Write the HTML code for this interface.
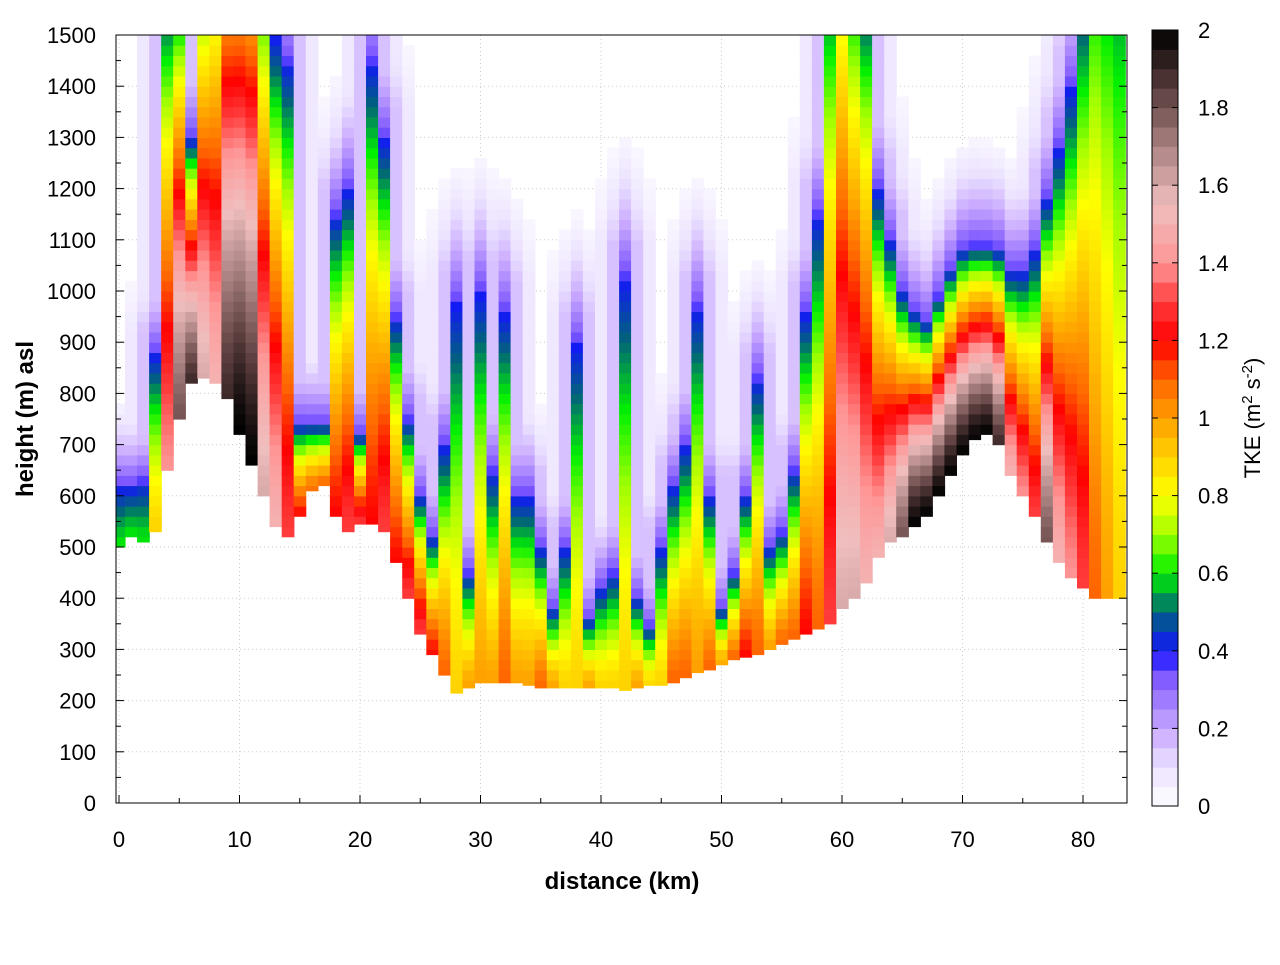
<!DOCTYPE html>
<html><head><meta charset="utf-8"><style>
body{margin:0;background:#fff;font-family:"Liberation Sans",sans-serif}
svg text{font-family:"Liberation Sans",sans-serif}
</style></head><body>
<svg id="chart" width="1280" height="960" xmlns="http://www.w3.org/2000/svg">
<rect width="1280" height="960" fill="#fff"/>
<g id="grid"></g>
<g id="cells"></g>
<rect x="116" y="35" width="1011" height="768" fill="none" stroke="#000" stroke-width="1"/>
<g id="axes"></g>
<text x="622" y="889" text-anchor="middle" font-size="24" font-weight="bold">distance (km)</text>
<text transform="translate(33,419) rotate(-90)" text-anchor="middle" font-size="24" font-weight="bold">height (m) asl</text>
<g id="cbar"></g>
<text transform="translate(1260,418) rotate(-90)" text-anchor="middle" font-size="22">TKE (m<tspan font-size="15" dy="-8">2</tspan><tspan dy="8"> s</tspan><tspan font-size="15" dy="-8">-2</tspan><tspan dy="8">)</tspan></text>
</svg>
<script>
const distances=[0,1,2,3,4,5,6,7,8,9,10,11,12,13,14,15,16,17,18,19,20,21,22,23,24,25,26,27,28,29,30,31,32,33,34,35,36,37,38,39,40,41,42,43,44,45,46,47,48,49,50,51,52,53,54,55,56,57,58,59,60,61,62,63,64,65,66,67,68,69,70,71,72,73,74,75,76,77,78,79,80,81,82,83];
const groundHeight=[500,520,510,530,650,750,820,830,820,790,720,660,600,540,520,560,610,620,560,530,545,545,530,470,400,330,290,250,215,225,235,235,235,235,230,225,225,225,225,225,225,225,220,225,230,230,235,245,255,260,270,280,285,290,300,310,320,330,340,350,380,400,430,480,510,520,540,560,600,640,680,710,720,700,640,600,560,510,470,440,420,400,400,400];
const topHeight=[620,620,630,880,1600,1600,1300,1700,1800,1900,1900,1900,1700,1500,1450,740,740,740,1150,1200,720,1450,1300,950,750,600,520,700,980,450,1000,650,960,600,600,500,380,500,900,360,420,450,1030,400,345,500,620,700,970,600,380,450,600,830,500,530,650,960,1150,1700,1900,1700,1600,1200,1100,1000,960,940,990,1040,1080,1090,1090,1080,1040,1040,1080,1180,1280,1400,1600,1900,1900,1900];
const peakTKE=[0.6,0.6,0.6,0.9,1.4,1.8,1.9,1.6,1.5,1.9,2,2,1.6,1.5,1.3,1.2,1.1,1.1,1.2,1.3,1.3,1.2,1.3,1.2,1.3,1.3,1.2,1.1,0.9,1.0,1.0,1.0,1.1,1.0,1.0,1.1,1.0,0.9,0.9,1.0,0.9,0.9,0.9,1.0,0.9,0.9,1.1,1.1,1.0,1.1,1.0,1.1,1.2,1.1,1.0,1.1,1.1,1.2,1.1,1.3,1.6,1.6,1.5,1.5,1.6,1.8,2,2,2,2,2,2,2,1.9,1.5,1.4,1.3,1.8,1.5,1.4,1.3,1.1,1.0,0.9];
const xTicks=[0,10,20,30,40,50,60,70,80];
const yTicks=[0,100,200,300,400,500,600,700,800,900,1000,1100,1200,1300,1400,1500];
const cTicks=[0,0.2,0.4,0.6,0.8,1,1.2,1.4,1.6,1.8,2];
const NS="http://www.w3.org/2000/svg";
const X=d=>119+d*12.05, Y=h=>803-h*0.512;
const stops=[[0,[255,255,255]],[0.1,[235,225,255]],[0.2,[200,168,255]],[0.33,[128,90,255]],[0.4,[20,20,255]],[0.5,[0,100,120]],[0.6,[0,240,0]],[0.7,[160,255,0]],[0.8,[255,255,0]],[0.9,[255,210,0]],[1.0,[255,160,0]],[1.1,[255,100,0]],[1.2,[255,0,0]],[1.3,[255,60,60]],[1.4,[255,150,150]],[1.55,[240,190,190]],[1.7,[170,130,130]],[1.85,[90,60,60]],[2,[0,0,0]]];
function col(v){v=Math.max(0,Math.min(2,v));for(let i=1;i<stops.length;i++){if(v<=stops[i][0]){const a=stops[i-1],b=stops[i],t=(v-a[0])/(b[0]-a[0]);return 'rgb('+a[1].map((c,k)=>Math.round(c+(b[1][k]-c)*t)).join(',')+')';}}return '#000';}
function mk(tag,attrs,parent){const e=document.createElementNS(NS,tag);for(const k in attrs)e.setAttribute(k,attrs[k]);parent.appendChild(e);return e;}
const grid=document.getElementById('grid');
xTicks.forEach(t=>{const l=mk('line',{x1:X(t),x2:X(t),y1:35,y2:803,stroke:'#ccc','stroke-dasharray':'1,3'},grid);});
yTicks.forEach(t=>{const l=mk('line',{x1:116,x2:1127,y1:Y(t),y2:Y(t),stroke:'#ccc','stroke-dasharray':'1,3'},grid);});
function val(i,hm){
 const g=groundHeight[i], tp=topHeight[i], pk=peakTKE[i];
 if(hm<g)return 0;
 if(hm<tp){const t=(hm-g)/(tp-g);return 0.4+(pk-0.4)*(1-Math.pow(t,1.3));}
 const tail=200+0.2*(tp-g);const u=(hm-tp)/tail;
 return u<1?0.36*Math.pow(1-u,1.8):0;
}
const cells=document.getElementById('cells');
const DH=20,N=distances.length;
for(let i=0;i<N;i++){
 const d=distances[i]-0.5;
 const g=groundHeight[i];
 for(let h=Math.floor(g/DH)*DH;h<1500;h+=DH){
  const hb=Math.max(h,g);const hm=hb+DH/2;
  let v=val(i,hm);
  for(let k=-2;k<=2;k++){if(!k||i+k<0||i+k>=N)continue;const nv=Math.min(0.26,val(i+k,hm))*(Math.abs(k)==1?0.6:0.3);if(nv>v)v=nv;}
  if(v<0.03)continue;
  const x0=Math.max(116,X(d)),x1=Math.min(1127,X(d+1));
  const r=mk('rect',{x:x0.toFixed(1),y:Y(h+DH).toFixed(1),width:(x1-x0+0.6).toFixed(1),height:(Y(hb)-Y(h+DH)+0.6).toFixed(1),fill:col(v)},cells);
  
  
 }}
const axes=document.getElementById('axes');
xTicks.forEach(t=>{mk('line',{x1:X(t),x2:X(t),y1:803,y2:795,stroke:'#000'},axes);if(t<80)mk('line',{x1:X(t+5),x2:X(t+5),y1:803,y2:798,stroke:'#000'},axes);
 const tx=mk('text',{x:X(t),y:847,'text-anchor':'middle','font-size':22},axes);tx.textContent=t;});
yTicks.forEach(t=>{mk('line',{x1:116,x2:124,y1:Y(t),y2:Y(t),stroke:'#000'},axes);mk('line',{x1:1127,x2:1119,y1:Y(t),y2:Y(t),stroke:'#000'},axes);
 if(t<1500){mk('line',{x1:116,x2:121,y1:Y(t+50),y2:Y(t+50),stroke:'#000'},axes);mk('line',{x1:1127,x2:1122,y1:Y(t+50),y2:Y(t+50),stroke:'#000'},axes);}
 const tx=mk('text',{x:96,y:Y(t)+8,'text-anchor':'end','font-size':22},axes);tx.textContent=t;});
const cb=document.getElementById('cbar');
const CB0=806,CB1=30;const CY=v=>CB0-(v/2)*(CB0-CB1);
for(let v=0;v<2;v+=0.05){const r=mk('rect',{x:1152,y:CY(v+0.05),width:26,height:CY(v)-CY(v+0.05)+0.5,fill:col(v+0.025)},cb);}
mk('rect',{x:1152,y:CB1,width:26,height:CB0-CB1,fill:'none',stroke:'#000'},cb);
cTicks.forEach(t=>{mk('line',{x1:1178,x2:1172,y1:CY(t),y2:CY(t),stroke:'#000'},cb);mk('line',{x1:1152,x2:1158,y1:CY(t),y2:CY(t),stroke:'#000'},cb);
 const tx=mk('text',{x:1198,y:CY(t)+8,'font-size':22},cb);tx.textContent=t;});
</script>
</body></html>
